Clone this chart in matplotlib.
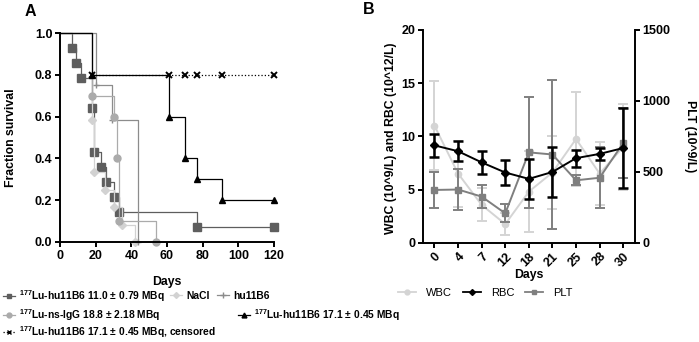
import matplotlib
matplotlib.use("Agg")
import matplotlib.pyplot as plt
from matplotlib.lines import Line2D

plt.rcParams['font.family'] = ['Liberation Sans', 'DejaVu Sans']
plt.rcParams['mathtext.fontset'] = 'custom'
plt.rcParams['mathtext.rm'] = 'Liberation Sans'
plt.rcParams['mathtext.bf'] = 'Liberation Sans:bold'

# ---- panel A: Kaplan-Meier survival ----
lu11_t = [0, 7, 9, 12, 18, 19, 23, 26, 30, 33, 77, 120]
lu11_s = [1.0, 0.929, 0.857, 0.786, 0.643, 0.429, 0.357, 0.286, 0.214, 0.143, 0.071, 0.071]
nacl_t = [0, 18, 19, 25, 30, 35, 42]
nacl_s = [1.0, 0.583, 0.333, 0.25, 0.167, 0.083, 0.0]
hu_t = [0, 20, 29, 44]
hu_s = [1.0, 0.75, 0.583, 0.0]
nsigg_t = [0, 18, 30, 32, 33, 54]
nsigg_s = [1.0, 0.7, 0.6, 0.4, 0.1, 0.0]
lu17_t = [0, 18, 61, 70, 77, 91, 120]
lu17_s = [1.0, 0.8, 0.6, 0.4, 0.3, 0.2, 0.2]
cens_t = [18, 61, 70, 77, 91, 120]
cens_s = [0.8, 0.8, 0.8, 0.8, 0.8, 0.8]

# ---- panel B: blood counts ----
days_b = ['0', '4', '7', '12', '18', '21', '25', '28', '30']
wbc = [11.0, 6.5, 3.55, 1.75, 4.8, 6.6, 9.75, 6.5, 9.0]
wbc_err = [4.2, 3.1, 1.55, 1.05, 3.8, 3.4, 4.4, 3.0, 4.0]
rbc = [9.15, 8.6, 7.55, 6.6, 6.0, 6.65, 7.95, 8.35, 8.9]
rbc_err = [1.1, 0.95, 1.05, 1.2, 1.9, 2.35, 0.8, 0.6, 3.75]
plt_v = [372, 375, 325, 207, 637, 622, 440, 458, 703]
plt_err = [128, 145, 82, 64, 394, 526, 35, 215, 247]

fig = plt.figure(figsize=(6.99, 3.42), dpi=100)
W, H = 699, 342
TICK = 9
LAB = 8.8


def box(l, t, r, b):
    return [l / W, 1 - b / H, (r - l) / W, (b - t) / H]


def style(ax):
    for s in ['top', 'right']:
        ax.spines[s].set_visible(False)
    for s in ['left', 'bottom']:
        ax.spines[s].set_linewidth(1.4)
    ax.tick_params(width=1.4, length=3.5, labelsize=TICK, pad=2)
    for lab in ax.get_xticklabels() + ax.get_yticklabels():
        lab.set_fontweight('bold')


axA = fig.add_axes(box(60, 33, 274, 242))
series_a = [
    (lu11_t, lu11_s, '#5e5e5e', 's', 5.2),
    (nacl_t, nacl_s, '#d2d2d2', 'D', 4),
    (hu_t, hu_s, '#8c8c8c', '+', 4.5),
    (nsigg_t, nsigg_s, '#ababab', 'o', 5),
    (lu17_t, lu17_s, '#000000', '^', 5),
]
for t, s, c, m, ms in series_a:
    axA.step(t, s, where='post', color=c, lw=0.9, clip_on=False)
    axA.plot(t[1:], s[1:], ls='none', marker=m, color=c, ms=ms, mew=1, clip_on=False)
axA.plot(cens_t, cens_s, ls=':', color='black', lw=0.9, marker='x', ms=4, mew=1.4, clip_on=False)

axA.set_xlim(0, 120)
axA.set_ylim(0, 1.0)
axA.set_xticks(range(0, 121, 20))
axA.set_yticks([0, 0.2, 0.4, 0.6, 0.8, 1.0])
axA.set_yticklabels(['0.0', '0.2', '0.4', '0.6', '0.8', '1.0'])
style(axA)
axA.set_xlabel('Days', fontsize=LAB, fontweight='bold', labelpad=10)
axA.set_ylabel('Fraction survival', fontsize=LAB, fontweight='bold')
axA.yaxis.set_label_coords(-0.2, 0.5)

sup = r'$\mathbf{^{177}}$'
legend_a = [
    (3, 296, '#5e5e5e', 's', 3.5, sup + 'Lu-hu11B6 11.0 ± 0.79 MBq'),
    (170, 296, '#d2d2d2', 'D', 3, 'NaCl'),
    (217, 296, '#8c8c8c', '+', 4, 'hu11B6'),
    (3, 315, '#ababab', 'o', 3.5, sup + 'Lu-ns-IgG 18.8 ± 2.18 MBq'),
    (238, 315, '#000000', '^', 3.5, sup + 'Lu-hu11B6 17.1 ± 0.45 MBq'),
    (3, 332, '#000000', 'x', 3.5, sup + 'Lu-hu11B6 17.1 ± 0.45 MBq, censored'),
]
for x, y, c, m, ms, label in legend_a:
    ls = ':' if m == 'x' else '-'
    h = Line2D([], [], color=c, marker=m, ms=ms, lw=0.9, ls=ls, mew=1)
    fig.legend([h], [label], loc='center left', bbox_to_anchor=(x / W, 1 - y / H),
               frameon=False, borderpad=0, borderaxespad=0, handlelength=1.2,
               handletextpad=0.4, prop={'size': 7.4, 'weight': 'bold'})

fig.text(25 / W, 1 - 12 / H, 'A', fontsize=11.5, fontweight='bold', va='center')

# ---- panel B ----
axB = fig.add_axes(box(422.7, 30, 635, 242.7))
axB.errorbar(days_b, wbc, yerr=wbc_err, color='#d4d4d4', marker='o', ms=4.5, lw=1.4,
             elinewidth=1.4, capsize=3.5, capthick=1.4, label='WBC')
axB.set_ylim(0, 20)
axB.set_xlim(-0.5, 8.5)
axB.set_yticks([0, 5, 10, 15, 20])

axP = axB.twinx()
axP.errorbar(days_b, plt_v, yerr=plt_err, color='#7f7f7f', marker='s', ms=4.5, lw=1.4,
             elinewidth=1.4, capsize=3.5, capthick=1.4, label='PLT')
axP.set_ylim(0, 1500)
axP.set_yticks([0, 500, 1000, 1500])

axR = axB.twinx()
axR.errorbar(days_b, rbc, yerr=rbc_err, color='black', marker='D', ms=4, lw=1.4,
             elinewidth=1.8, capsize=3.5, capthick=1.8, label='RBC')
axR.set_ylim(0, 20)
axR.axis('off')

style(axB)
axB.spines['right'].set_visible(False)
for s in ['top', 'left', 'bottom']:
    axP.spines[s].set_visible(False)
axP.spines['right'].set_linewidth(1.4)
axP.tick_params(width=1.4, length=3.5, labelsize=TICK, pad=2)
for lab in axP.get_yticklabels():
    lab.set_fontweight('bold')
axB.set_xlim(-0.5, 8.5)
for lab in axB.get_xticklabels():
    lab.set_rotation(45)
    lab.set_ha('right')
    lab.set_rotation_mode('anchor')
    lab.set_fontweight('bold')

axB.set_xlabel('Days', fontsize=LAB, fontweight='bold', labelpad=0)
axB.set_ylabel('WBC (10^9/L) and RBC (10^12/L)', fontsize=LAB, fontweight='bold')
axB.yaxis.set_label_coords(-0.12, 0.49)
axP.set_ylabel('PLT (10^9/L)', fontsize=LAB, fontweight='bold', rotation=-90, va='center')
axP.yaxis.set_label_coords(1.259, 0.5)

hw = Line2D([], [], color='#d4d4d4', marker='o', ms=3.5, lw=1.3)
hr = Line2D([], [], color='black', marker='D', ms=3, lw=1.3)
hp = Line2D([], [], color='#7f7f7f', marker='s', ms=3.5, lw=1.3)
fig.legend([hw, hr, hp], ['WBC', 'RBC', 'PLT'], loc='center left', ncol=3,
           bbox_to_anchor=(398 / W, 1 - 293 / H), frameon=False, borderpad=0,
           borderaxespad=0, handlelength=1.6, handletextpad=0.9, columnspacing=1.0,
           prop={'size': 8})

fig.text(363 / W, 1 - 9 / H, 'B', fontsize=11.5, fontweight='bold', va='center')

fig.savefig('out.png', dpi=100)
